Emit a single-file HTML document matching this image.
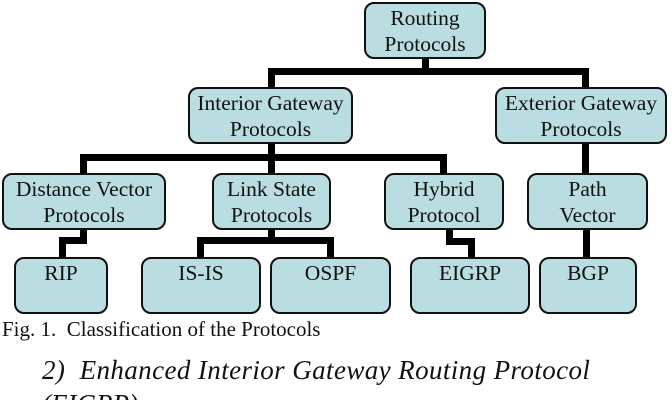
<!DOCTYPE html>
<html><head><meta charset="utf-8"><style>
html,body{margin:0;padding:0;background:#fff;width:672px;height:400px;overflow:hidden;position:relative;font-family:"Liberation Serif",serif;}
.b{position:absolute;box-sizing:border-box;background:#b9dde0;border:2.5px solid #111;border-radius:10px;text-align:center;font-size:21.5px;line-height:26px;color:#111;padding-top:1px;}
.l{position:absolute;background:#000;}
.t{position:absolute;white-space:nowrap;color:#111;}
</style></head><body>
<div class="l" style="left:422px;top:56px;width:7px;height:18px"></div>
<div class="l" style="left:268px;top:68px;width:321px;height:7px"></div>
<div class="l" style="left:268px;top:68px;width:7px;height:22px"></div>
<div class="l" style="left:582px;top:68px;width:7px;height:22px"></div>

<div class="l" style="left:268px;top:141px;width:7px;height:20px"></div>
<div class="l" style="left:80px;top:154px;width:367px;height:7px"></div>
<div class="l" style="left:80px;top:154px;width:7px;height:22px"></div>
<div class="l" style="left:268px;top:154px;width:7px;height:22px"></div>
<div class="l" style="left:440px;top:154px;width:7px;height:22px"></div>
<div class="l" style="left:582px;top:141px;width:7px;height:35px"></div>

<div class="l" style="left:80px;top:227px;width:7px;height:16px"></div>
<div class="l" style="left:59px;top:237px;width:28px;height:7px"></div>
<div class="l" style="left:59px;top:237px;width:7px;height:23px"></div>

<div class="l" style="left:268px;top:227px;width:7px;height:16px"></div>
<div class="l" style="left:197px;top:237px;width:137px;height:7px"></div>
<div class="l" style="left:197px;top:237px;width:7px;height:23px"></div>
<div class="l" style="left:327px;top:237px;width:7px;height:23px"></div>

<div class="l" style="left:446px;top:227px;width:7px;height:16px"></div>
<div class="l" style="left:446px;top:238px;width:29px;height:7px"></div>
<div class="l" style="left:468px;top:238px;width:7px;height:22px"></div>

<div class="l" style="left:583px;top:227px;width:7px;height:33px"></div>

<div class="b" style="left:364px;top:2px;width:122px;height:57px">Routing<br>Protocols</div>
<div class="b" style="left:188px;top:87px;width:165px;height:57px">Interior Gateway<br>Protocols</div>
<div class="b" style="left:495px;top:87px;width:172px;height:57px">Exterior Gateway<br>Protocols</div>
<div class="b" style="left:2px;top:173px;width:164px;height:57px">Distance Vector<br>Protocols</div>
<div class="b" style="left:212px;top:173px;width:119px;height:57px">Link State<br>Protocols</div>
<div class="b" style="left:384px;top:173px;width:120px;height:57px">Hybrid<br>Protocol</div>
<div class="b" style="left:527px;top:173px;width:121px;height:57px">Path<br>Vector</div>
<div class="b" style="left:14px;top:257px;width:94px;height:57px">RIP</div>
<div class="b" style="left:141px;top:257px;width:120px;height:57px">IS-IS</div>
<div class="b" style="left:270px;top:257px;width:121px;height:57px">OSPF</div>
<div class="b" style="left:410px;top:257px;width:120px;height:57px">EIGRP</div>
<div class="b" style="left:539px;top:257px;width:98px;height:57px">BGP</div>

<div class="t" style="left:2px;top:317px;font-size:21px;">Fig. 1.&nbsp; Classification of the Protocols</div>
<div class="t" style="left:42px;top:355px;font-size:27px;font-style:italic;letter-spacing:0.4px;">2)&nbsp; Enhanced Interior Gateway Routing Protocol</div>
<div class="t" style="left:42px;top:389px;font-size:27px;font-style:italic;">(EIGRP)</div>
</body></html>
